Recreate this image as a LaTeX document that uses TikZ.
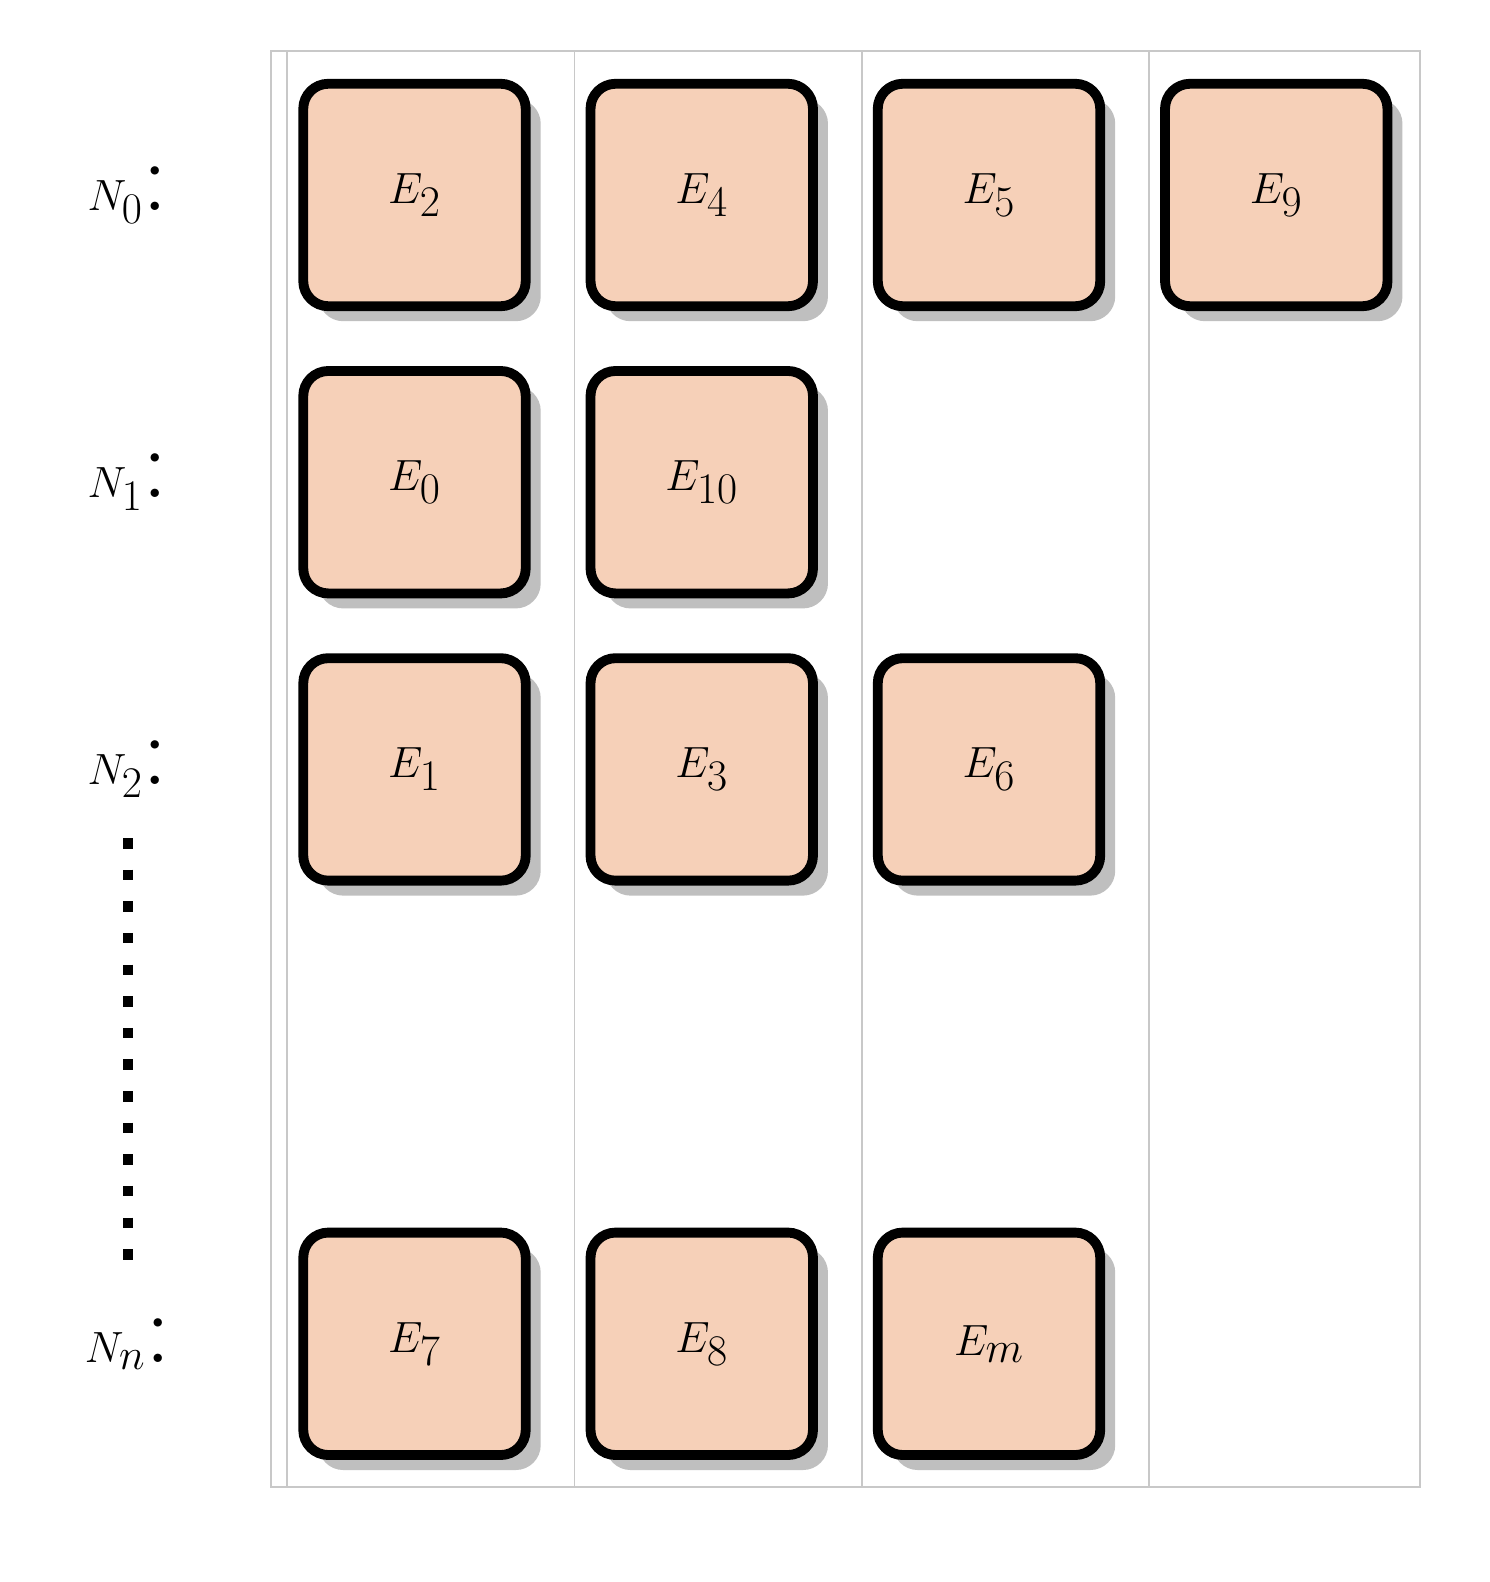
\documentclass[tikz,border=0pt]{standalone}
\usetikzlibrary{shadows}
\definecolor{boxfill}{HTML}{F6D0B8}
\definecolor{gridc}{HTML}{C8C8C8}
\begin{document}
\begin{tikzpicture}[x=0.02cm,y=-0.02cm,
  box/.style={draw=black,line width=5.6pt,fill=boxfill,rounded corners=0.5cm,
    minimum width=4.45cm,minimum height=4.45cm,inner sep=0pt,
    drop shadow={shadow xshift=0.3cm,shadow yshift=-0.3cm,fill=black!25,opacity=1},
    font=\fontsize{58}{60}\selectfont},
  lbl/.style={font=\fontsize{58}{60}\selectfont}]
\useasboundingbox (0,0) rectangle (1490,1582);
\draw[gridc,line width=1.1pt] (271,51) grid[xstep=287.25,ystep=287.2] (1420,1487);
\draw[gridc,line width=1.1pt] (271,51) rectangle (1420,1487);
% labels
\node[lbl] (n0) at (128,195) {$N_0$:};
\node[lbl] (n1) at (128,482) {$N_1$:};
\node[lbl] (n2) at (128,769) {$N_2$:};
\node[lbl] (nn) at (128,1344) {$N_n$:};
\draw[line width=6pt,dash pattern=on 6pt off 12pt] (128,838) -- (128,1275);
% boxes
\foreach \c/\r/\t/\nm in {0/0/2/a,1/0/4/b,2/0/5/c,3/0/9/d,0/1/0/e,1/1/10/f,0/2/1/g,1/2/3/h,2/2/6/i,0/4/7/j,1/4/8/k,2/4/m/l}
  \node[box] (\nm) at ({414.5+287.25*\c},{195+287.2*\r}) {$E_{\t}$};
\end{tikzpicture}
\end{document}
